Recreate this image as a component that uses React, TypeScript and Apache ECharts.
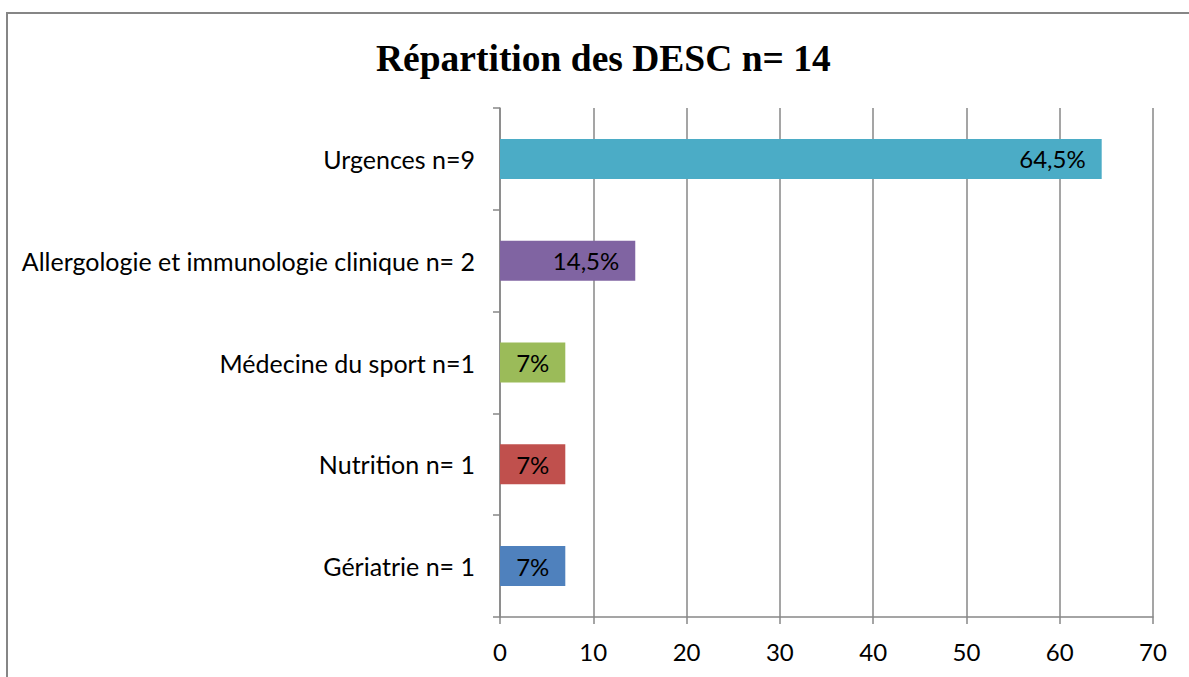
import React, { useEffect, useRef } from "react";
import * as echarts from "echarts";

const categories = [
  "Gériatrie n= 1",
  "Nutrition n= 1",
  "Médecine du sport n=1",
  "Allergologie et immunologie clinique n= 2",
  "Urgences n=9",
];
const values = [7, 7, 7, 14.5, 64.5];
const barColors = ["#4F81BD", "#C0504D", "#9BBB59", "#8064A2", "#4BACC6"];
const xTicks = { min: 0, max: 70, interval: 10 };
const titleText = "Répartition des DESC n= 14";

const FONT = "Lato";
const FS = 25;

export default function App() {
  const ref = useRef<HTMLDivElement>(null);
  useEffect(() => {
    document.body.style.margin = "0";
    const chart = echarts.init(ref.current!, null, { renderer: "svg" });
    chart.setOption({
      animation: false,
      backgroundColor: "#ffffff",
      title: {
        text: titleText,
        left: 371,
        top: 34,
        textStyle: {
          fontFamily: "Liberation Serif",
          fontWeight: "bold",
          fontSize: 37.5,
          color: "#000",
        },
      },
      graphic: [
        {
          type: "rect",
          shape: { x: 7, y: 13, width: 1200, height: 700 },
          style: { fill: "none", stroke: "#868686", lineWidth: 2 },
          silent: true,
        },
      ],
      grid: { left: 500, right: 36, top: 108, bottom: 60 },
      xAxis: {
        type: "value",
        min: xTicks.min,
        max: xTicks.max,
        interval: xTicks.interval,
        axisLine: { show: true, lineStyle: { color: "#878787", width: 1.5 } },
        axisTick: { show: true, length: 7, lineStyle: { color: "#878787", width: 1.5 } },
        splitLine: { show: true, lineStyle: { color: "#878787", width: 1.5 } },
        axisLabel: { fontFamily: FONT, fontSize: 24, color: "#000", margin: 22 },
      },
      yAxis: {
        type: "category",
        data: categories,
        axisLine: { show: true, lineStyle: { color: "#878787", width: 1.5 } },
        axisTick: { show: true, length: 7, alignWithLabel: false, lineStyle: { color: "#878787", width: 1.5 } },
        axisLabel: { fontFamily: FONT, fontSize: FS, color: "#000", margin: 25 },
      },
      series: [
        {
          type: "bar",
          data: values.map((v, i) => ({ value: v, itemStyle: { color: barColors[i] } })),
          barWidth: 40,
          label: {
            show: true,
            position: "insideRight",
            distance: 16,
            fontFamily: FONT,
            fontSize: 24,
            color: "#000",
            formatter: (p: any) => String(p.value).replace(".", ",") + "%",
          },
        },
      ],
    });
    return () => chart.dispose();
  }, []);
  return <div ref={ref} style={{ width: 1189, height: 677 }} />;
}
